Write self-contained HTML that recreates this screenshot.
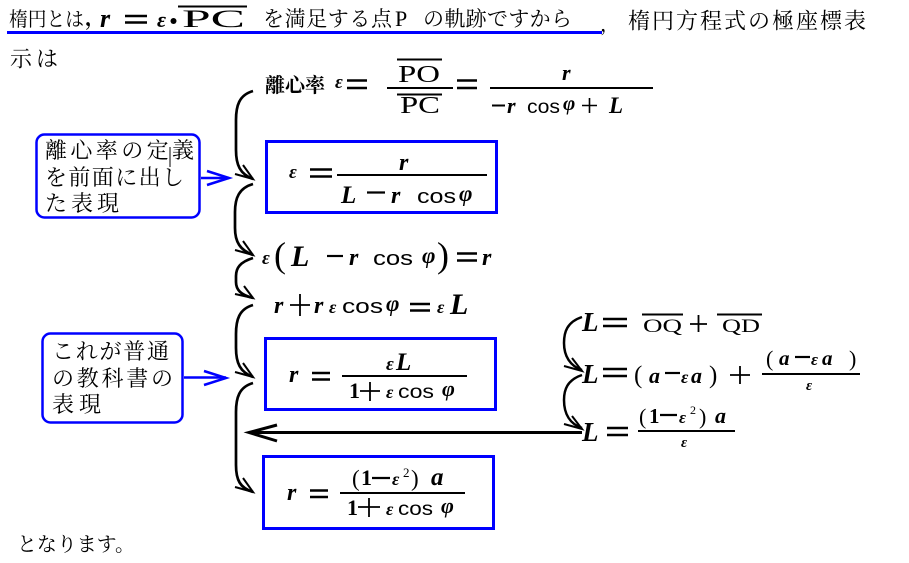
<!DOCTYPE html>
<html><head><meta charset="utf-8">
<style>
html,body{margin:0;padding:0;background:#fff;}
svg{display:block;}
.j{font-family:"Liberation Serif","Noto Serif CJK SC",serif;fill:#000;}
.m{font-family:"Liberation Serif",serif;font-style:italic;font-weight:bold;fill:#000;}
.u{font-family:"Liberation Serif",serif;fill:#000;}
.c{font-family:"Liberation Sans",sans-serif;fill:#000;}
.ln{stroke:#000;fill:none;}
.bl{stroke:#0000ff;fill:none;}
</style></head><body>
<svg width="909" height="563" viewBox="0 0 909 563" xmlns="http://www.w3.org/2000/svg">
<rect width="909" height="563" fill="#fff"/>

<!-- Title line -->
<text class="j" x="9" y="26" font-size="20" textLength="75" lengthAdjust="spacingAndGlyphs">楕円とは</text>
<text class="j" x="85" y="25" font-size="21" font-weight="bold">，</text>
<text class="m" x="100" y="27" font-size="26">r</text>
<path class="ln" d="M125 16H147M125 22.5H147" stroke-width="2.5"/>
<text class="m" x="157" y="27" font-size="22">ε</text>
<circle cx="173.5" cy="21" r="3" fill="#000"/>
<path class="ln" d="M178 6.5H247" stroke-width="2"/>
<text class="u" x="182" y="27" font-size="25" textLength="63" lengthAdjust="spacingAndGlyphs">PC</text>
<text class="j" x="263" y="26" font-size="21" textLength="129">を満足する点</text>
<text class="u" x="395" y="26" font-size="22">P</text>
<text class="j" x="423" y="26" font-size="21" textLength="149">の軌跡ですから</text>
<rect x="7" y="31" width="595" height="3" fill="#0000ff"/>
<text class="j" x="600" y="31" font-size="20">，</text>
<text class="j" x="628" y="28.5" font-size="22" textLength="238">楕円方程式の極座標表</text>
<text class="j" x="10" y="66.5" font-size="22" textLength="48">示は</text>

<!-- Eq 0 -->
<text class="j" x="265" y="92" font-size="20" font-weight="bold" textLength="60">離心率</text>
<text class="m" x="335" y="88" font-size="19">ε</text>
<path class="ln" d="M347 80.5H367M347 88H367" stroke-width="2.5"/>
<path class="ln" d="M397 59.5H442" stroke-width="2"/>
<text class="u" x="398" y="82" font-size="24" textLength="42" lengthAdjust="spacingAndGlyphs">PO</text>
<path class="ln" d="M387 88H453" stroke-width="2"/>
<path class="ln" d="M397 94.5H442" stroke-width="2"/>
<text class="u" x="400" y="113" font-size="24" textLength="40" lengthAdjust="spacingAndGlyphs">PC</text>
<path class="ln" d="M457 80.5H477M457 88H477" stroke-width="2.5"/>
<path class="ln" d="M490 88H653" stroke-width="2"/>
<text class="m" x="562" y="80" font-size="22">r</text>
<path class="ln" d="M492 105.5H505" stroke-width="2"/>
<text class="m" x="507" y="113" font-size="22">r</text>
<text class="c" x="527" y="113" font-size="19" textLength="33" lengthAdjust="spacingAndGlyphs">cos</text>
<text class="m" x="563" y="110" font-size="21">φ</text>
<path class="ln" d="M582 105.5H597M589.5 98V113" stroke-width="1.6"/>
<text class="m" x="609" y="113" font-size="23">L</text>

<!-- Box 1 -->
<rect class="bl" x="266.5" y="141.5" width="230" height="71" stroke-width="3"/>
<text class="m" x="289" y="178" font-size="19">ε</text>
<path class="ln" d="M310 169.5H332M310 176.5H332" stroke-width="2.5"/>
<path class="ln" d="M337 175H487" stroke-width="2"/>
<text class="m" x="399" y="170" font-size="24">r</text>
<text class="m" x="341" y="203" font-size="25">L</text>
<path class="ln" d="M367 192.5H385" stroke-width="2.2"/>
<text class="m" x="391" y="203" font-size="24">r</text>
<text class="c" x="417" y="203" font-size="20" textLength="39" lengthAdjust="spacingAndGlyphs">cos</text>
<text class="m" x="459" y="201" font-size="23">φ</text>

<!-- Eq 2 -->
<text class="m" x="262" y="264" font-size="19">ε</text>
<text class="u" x="274" y="267" font-size="36">(</text>
<text class="m" x="291" y="266" font-size="30">L</text>
<path class="ln" d="M327 256H343" stroke-width="2.2"/>
<text class="m" x="349" y="265" font-size="24">r</text>
<text class="c" x="373" y="265" font-size="20" textLength="40" lengthAdjust="spacingAndGlyphs">cos</text>
<text class="m" x="422" y="263" font-size="23">φ</text>
<text class="u" x="437" y="267" font-size="36">)</text>
<path class="ln" d="M457 253.5H477M457 260.5H477" stroke-width="2.5"/>
<text class="m" x="482" y="265" font-size="24">r</text>

<!-- Eq 3 -->
<text class="m" x="274" y="313" font-size="24">r</text>
<path class="ln" d="M290 305H310M300 294V316" stroke-width="1.8"/>
<text class="m" x="314" y="313" font-size="24">r</text>
<text class="m" x="329" y="313" font-size="18">ε</text>
<text class="c" x="342" y="313" font-size="20" textLength="41" lengthAdjust="spacingAndGlyphs">cos</text>
<text class="m" x="386" y="311" font-size="23">φ</text>
<path class="ln" d="M410 304H430M410 310.5H430" stroke-width="2.5"/>
<text class="m" x="437" y="313" font-size="18">ε</text>
<text class="m" x="450" y="314" font-size="30">L</text>

<!-- Box 2 -->
<rect class="bl" x="265.5" y="338.5" width="230" height="71" stroke-width="3"/>
<text class="m" x="289" y="382" font-size="24">r</text>
<path class="ln" d="M312 373H330M312 379.5H330" stroke-width="2.5"/>
<path class="ln" d="M342 376H467" stroke-width="2"/>
<text class="m" x="386" y="370" font-size="19">ε</text>
<text class="m" x="396" y="370" font-size="25">L</text>
<text class="u" x="349" y="398" font-size="22" font-weight="bold">1</text>
<path class="ln" d="M360 391H380M370 382V401" stroke-width="1.8"/>
<text class="m" x="386" y="398" font-size="18">ε</text>
<text class="c" x="398" y="398" font-size="19" textLength="36" lengthAdjust="spacingAndGlyphs">cos</text>
<text class="m" x="442" y="396" font-size="22">φ</text>

<!-- Box 3 -->
<rect class="bl" x="263.5" y="456.5" width="230" height="72" stroke-width="3"/>
<text class="m" x="287" y="500" font-size="24">r</text>
<path class="ln" d="M310 490.5H328M310 497H328" stroke-width="2.5"/>
<path class="ln" d="M340 493H465" stroke-width="2"/>
<text class="u" x="352" y="486" font-size="23">(</text>
<text class="u" x="361" y="485" font-size="22" font-weight="bold">1</text>
<path class="ln" d="M372 478H390" stroke-width="2.2"/>
<text class="m" x="392" y="485" font-size="18">ε</text>
<text class="u" x="403" y="477" font-size="13">2</text>
<text class="u" x="411" y="486" font-size="23">)</text>
<text class="m" x="431" y="485" font-size="25">a</text>
<text class="u" x="347" y="515" font-size="22" font-weight="bold">1</text>
<path class="ln" d="M358 507H380M369 498V517" stroke-width="1.8"/>
<text class="m" x="386" y="515" font-size="18">ε</text>
<text class="c" x="398" y="515" font-size="19" textLength="35" lengthAdjust="spacingAndGlyphs">cos</text>
<text class="m" x="441" y="513" font-size="22">φ</text>

<!-- Right side -->
<text class="m" x="582" y="331" font-size="27">L</text>
<path class="ln" d="M603 319H627M603 326H627" stroke-width="2.5"/>
<path class="ln" d="M642 314.5H683" stroke-width="2"/>
<text class="u" x="643" y="332" font-size="19" textLength="39" lengthAdjust="spacingAndGlyphs">OQ</text>
<path class="ln" d="M690 324H707M698.5 315V332" stroke-width="1.8"/>
<path class="ln" d="M717 314.5H762" stroke-width="2"/>
<text class="u" x="722" y="332" font-size="19" textLength="38" lengthAdjust="spacingAndGlyphs">QD</text>

<text class="m" x="582" y="383" font-size="27">L</text>
<path class="ln" d="M603 369H627M603 376H627" stroke-width="2.5"/>
<text class="u" x="634" y="383" font-size="25">(</text>
<text class="m" x="649" y="383" font-size="22">a</text>
<path class="ln" d="M665 373H680" stroke-width="2.2"/>
<text class="m" x="681" y="383" font-size="18">ε</text>
<text class="m" x="691" y="383" font-size="22">a</text>
<text class="u" x="709" y="383" font-size="25">)</text>
<path class="ln" d="M730 375H750M740 366V384" stroke-width="1.8"/>
<path class="ln" d="M762 374H860" stroke-width="2"/>
<text class="u" x="766" y="366" font-size="22">(</text>
<text class="m" x="779" y="365" font-size="21">a</text>
<path class="ln" d="M795 357H810" stroke-width="2.2"/>
<text class="m" x="811" y="365" font-size="17">ε</text>
<text class="m" x="822" y="365" font-size="21">a</text>
<text class="u" x="849" y="366" font-size="22">)</text>
<text class="m" x="806" y="390" font-size="15">ε</text>

<text class="m" x="582" y="441" font-size="27">L</text>
<path class="ln" d="M607 428H628M607 435H628" stroke-width="2.5"/>
<path class="ln" d="M638 431H735" stroke-width="2"/>
<text class="u" x="639" y="424" font-size="22">(</text>
<text class="u" x="649" y="423" font-size="21" font-weight="bold">1</text>
<path class="ln" d="M660 415H677" stroke-width="2.2"/>
<text class="m" x="679" y="423" font-size="17">ε</text>
<text class="u" x="690" y="414" font-size="12">2</text>
<text class="u" x="699" y="424" font-size="22">)</text>
<text class="m" x="715" y="423" font-size="22">a</text>
<text class="m" x="681" y="447" font-size="15">ε</text>

<!-- Right arcs -->
<path class="ln" d="M582 317C567 322 564 332 564 343C564 356 570 366 582 370" stroke-width="2.5"/>
<path class="ln" d="M564 366L582 371L572 358" stroke-width="2"/>
<path class="ln" d="M582 375C567 380 564 390 564 400C564 414 570 424 582 428" stroke-width="2.5"/>
<path class="ln" d="M564 424L582 429L572 416" stroke-width="2"/>

<!-- Horizontal arrow -->
<path class="ln" d="M250 432.5H582" stroke-width="3"/>
<path class="ln" d="M277 425L249 432.5L277 441" stroke-width="3"/>

<!-- Left arcs -->
<path class="ln" d="M253 91C239 95 236 106 236 120L236 150C236 165 240 174 253 179" stroke-width="2.7"/>
<path class="ln" d="M235 174L253 179L243 165" stroke-width="2"/>
<path class="ln" d="M253 184C239 188 235 198 235 212L235 228C235 242 240 250 253 255" stroke-width="2.7"/>
<path class="ln" d="M235 250L253 255L243 241" stroke-width="2"/>
<path class="ln" d="M253 258C240 262 236 268 236 276L236 282C236 290 241 295 253 298" stroke-width="2.7"/>
<path class="ln" d="M235 294L253 298L244 286" stroke-width="2"/>
<path class="ln" d="M253 305C239 309 236 320 236 334L236 348C236 363 240 372 253 377" stroke-width="2.7"/>
<path class="ln" d="M235 372L253 377L243 363" stroke-width="2"/>
<path class="ln" d="M253 383C239 387 236 398 236 412L236 465C236 480 240 488 253 492" stroke-width="2.7"/>
<path class="ln" d="M235 487L253 492L243 478" stroke-width="2"/>

<!-- Callout 1 -->
<rect class="bl" x="36.5" y="134.5" width="163" height="83" rx="8" stroke-width="2.5"/>
<text class="j" x="45" y="158" font-size="22" textLength="149">離心率の定義</text>
<text class="j" x="45" y="185" font-size="22" textLength="139">を前面に出し</text>
<text class="j" x="45" y="211" font-size="22" textLength="74">た表現</text>
<path d="M170 147V167" stroke="#000" stroke-width="1"/>
<path class="bl" d="M201 178H229" stroke-width="2.5"/>
<path class="bl" d="M207 171L229 178L207 185" stroke-width="2.5"/>

<!-- Callout 2 -->
<rect class="bl" x="42.5" y="333.5" width="140" height="89" rx="8" stroke-width="2.5"/>
<text class="j" x="52" y="359" font-size="22" textLength="117">これが普通</text>
<text class="j" x="52" y="386" font-size="22" textLength="121">の教科書の</text>
<text class="j" x="52" y="412" font-size="22" textLength="49">表現</text>
<path class="bl" d="M184 377.5H226" stroke-width="2.5"/>
<path class="bl" d="M204 371L226 378L204 385" stroke-width="2.5"/>

<!-- Footer -->
<text class="j" x="17" y="551" font-size="20" textLength="118">となります。</text>
</svg>
</body></html>
